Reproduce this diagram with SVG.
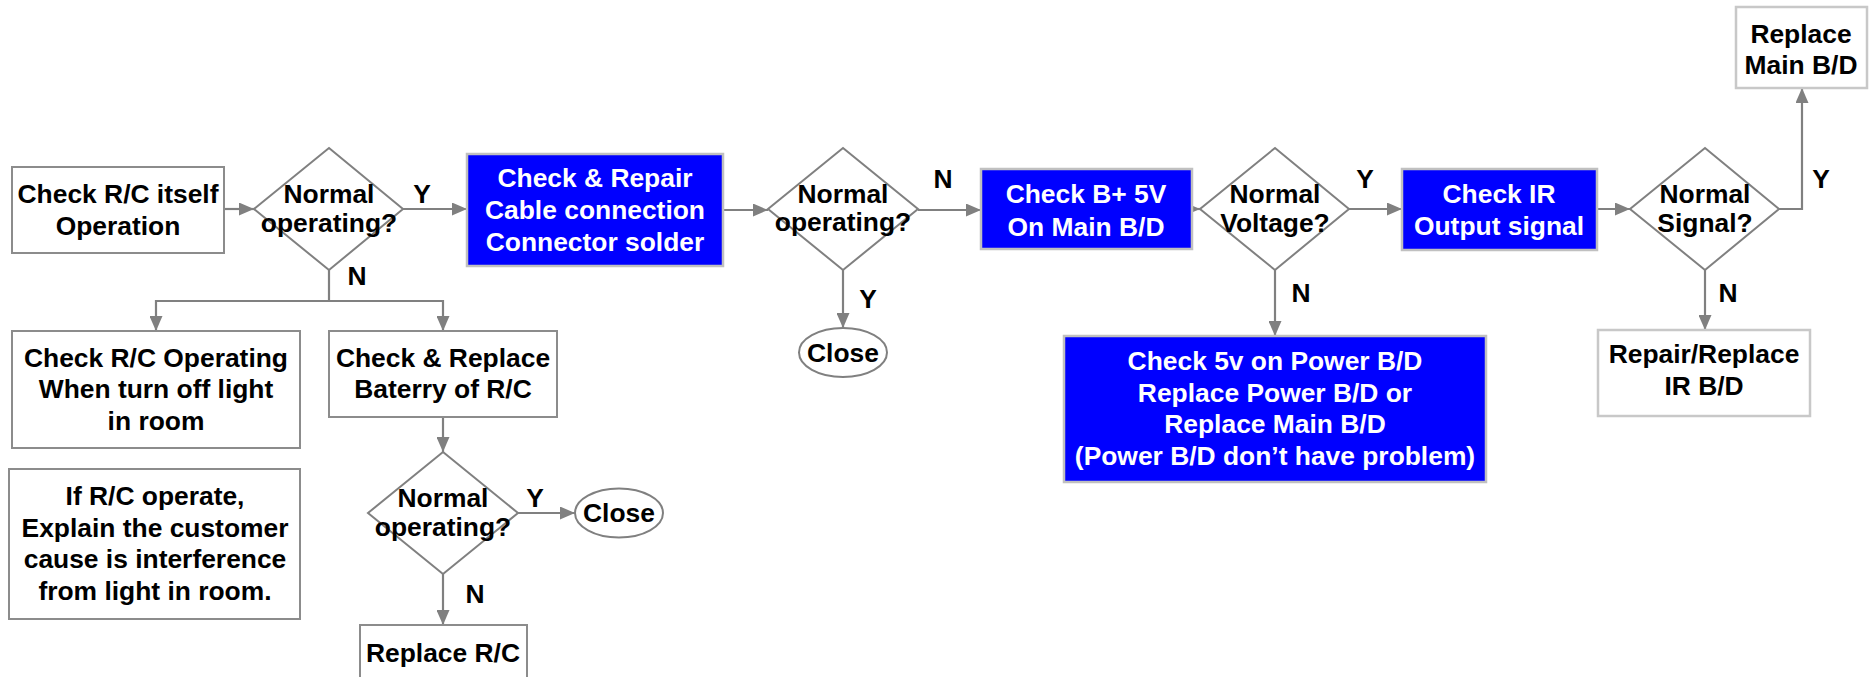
<svg xmlns="http://www.w3.org/2000/svg" width="1869" height="677" viewBox="0 0 1869 677">
<defs>
<style>
text{font-family:"Liberation Sans",Arial,sans-serif;font-weight:bold;font-size:26.4px;text-anchor:middle;fill:#000}
.w text,text.w{fill:#fff}
.box{fill:#fff;stroke:#8c8c8c;stroke-width:2}
.boxl{fill:#fff;stroke:#c8c8c8;stroke-width:2.5}
.blue{fill:#0000ff;stroke:#c0c0c0;stroke-width:2.5}
.dia{fill:#fff;fill-opacity:0;stroke:#808080;stroke-width:2}
.ell{fill:#fff;stroke:#808080;stroke-width:2}
.con{fill:none;stroke:#808080;stroke-width:2.2}
</style>
<marker id="ah" markerWidth="15" markerHeight="13" refX="15" refY="6.5" orient="auto" markerUnits="userSpaceOnUse">
<path d="M0,0 L15,6.5 L0,13 z" fill="#808080"/>
</marker>
</defs>
<rect width="1869" height="677" fill="#fff"/>

<g id="connectors">
<path class="con" d="M224,209 L254,209" marker-end="url(#ah)"/>
<path class="con" d="M403,209 L467,209" marker-end="url(#ah)"/>
<path class="con" d="M329,270 L329,301 L156,301 L156,331" marker-end="url(#ah)"/>
<path class="con" d="M329,301 L443,301 L443,331" marker-end="url(#ah)"/>
<path class="con" d="M723,210 L768,210" marker-end="url(#ah)"/>
<path class="con" d="M918,210 L981,210" marker-end="url(#ah)"/>
<path class="con" d="M843,270 L843,328" marker-end="url(#ah)"/>
<path class="con" d="M1186,209 L1200,209" marker-end="url(#ah)"/>
<path class="con" d="M1349,209 L1402,209" marker-end="url(#ah)"/>
<path class="con" d="M1597,209 L1630,209" marker-end="url(#ah)"/>
<path class="con" d="M1779,209 L1802,209 L1802,88" marker-end="url(#ah)"/>
<path class="con" d="M1275,270 L1275,336" marker-end="url(#ah)"/>
<path class="con" d="M1705,270 L1705,330" marker-end="url(#ah)"/>
<path class="con" d="M443,417 L443,452" marker-end="url(#ah)"/>
<path class="con" d="M518,513 L575,513" marker-end="url(#ah)"/>
<path class="con" d="M443,574 L443,625" marker-end="url(#ah)"/>
<g id="labels">
<text x="422" y="203">Y</text>
<text x="357" y="285">N</text>
<text x="943" y="188">N</text>
<text x="868" y="308">Y</text>
<text x="1365" y="188">Y</text>
<text x="1301" y="302">N</text>
<text x="1821" y="188">Y</text>
<text x="1728" y="302">N</text>
<text x="535" y="507">Y</text>
<text x="475" y="603">N</text>
</g>
</g>

<g id="n-check-rc-itself">
<rect class="box" x="12" y="167" width="212" height="86"/>
<text x="118" y="203">Check R/C itself</text>
<text x="118" y="235">Operation</text>
</g>
<g id="d-normal-op-1">
<polygon class="dia" points="329,148 403,209 329,270 254,209"/>
<text x="329" y="203">Normal</text>
<text x="329" y="232">operating?</text>
</g>
<g id="n-check-repair-cable" class="w">
<rect class="blue" x="467" y="154" width="256" height="112"/>
<text x="595" y="187">Check &amp; Repair</text>
<text x="595" y="219">Cable connection</text>
<text x="595" y="251">Connector solder</text>
</g>
<g id="d-normal-op-3">
<polygon class="dia" points="843,148 918,209 843,270 768,209"/>
<text x="843" y="203">Normal</text>
<text x="843" y="231">operating?</text>
</g>
<g id="n-check-b5v" class="w">
<rect class="blue" x="981" y="169" width="211" height="80"/>
<text x="1086" y="203">Check B+ 5V</text>
<text x="1086" y="236">On Main B/D</text>
</g>
<g id="d-normal-voltage">
<polygon class="dia" points="1275,148 1349,209 1275,270 1200,209"/>
<text x="1275" y="203">Normal</text>
<text x="1275" y="232">Voltage?</text>
</g>
<g id="n-check-ir" class="w">
<rect class="blue" x="1402" y="169" width="195" height="81"/>
<text x="1499" y="203">Check IR</text>
<text x="1499" y="235">Output signal</text>
</g>
<g id="d-normal-signal">
<polygon class="dia" points="1705,148 1779,209 1705,270 1630,209"/>
<text x="1705" y="203">Normal</text>
<text x="1705" y="232">Signal?</text>
</g>
<g id="n-replace-main">
<rect class="boxl" x="1736" y="7" width="131" height="81"/>
<text x="1801" y="43">Replace</text>
<text x="1801" y="74">Main B/D</text>
</g>
<g id="n-repair-ir">
<rect class="boxl" x="1598" y="330" width="212" height="86"/>
<text x="1704" y="363">Repair/Replace</text>
<text x="1704" y="395">IR B/D</text>
</g>
<g id="n-check-5v-power" class="w">
<rect class="blue" x="1064" y="336" width="422" height="146"/>
<text x="1275" y="370">Check 5v on Power B/D</text>
<text x="1275" y="402">Replace Power B/D or</text>
<text x="1275" y="433">Replace Main B/D</text>
<text x="1275" y="465">(Power B/D don’t have problem)</text>
</g>
<g id="n-close-mid">
<ellipse class="ell" cx="843" cy="352.5" rx="44" ry="24.5"/>
<text x="843" y="362">Close</text>
</g>
<g id="n-check-rc-operating">
<rect class="box" x="12" y="331" width="288" height="117"/>
<text x="156" y="367">Check R/C Operating</text>
<text x="156" y="398">When turn off light</text>
<text x="156" y="430">in room</text>
</g>
<g id="n-check-battery">
<rect class="box" x="329" y="331" width="228" height="86"/>
<text x="443" y="367">Check &amp; Replace</text>
<text x="443" y="398">Baterry of R/C</text>
</g>
<g id="n-note">
<rect class="box" x="9" y="469" width="291" height="150"/>
<text x="155" y="505">If R/C operate,</text>
<text x="155" y="537">Explain the customer</text>
<text x="155" y="568">cause is interference</text>
<text x="155" y="600">from light in room.</text>
</g>
<g id="d-normal-op-2">
<polygon class="dia" points="443,452 518,513 443,574 368,513"/>
<text x="443" y="507">Normal</text>
<text x="443" y="536">operating?</text>
</g>
<g id="n-close-bottom">
<ellipse class="ell" cx="619" cy="513" rx="44" ry="24.5"/>
<text x="619" y="522">Close</text>
</g>
<g id="n-replace-rc">
<rect class="box" x="360" y="625" width="167" height="80"/>
<text x="443" y="662">Replace R/C</text>
</g>
</svg>
